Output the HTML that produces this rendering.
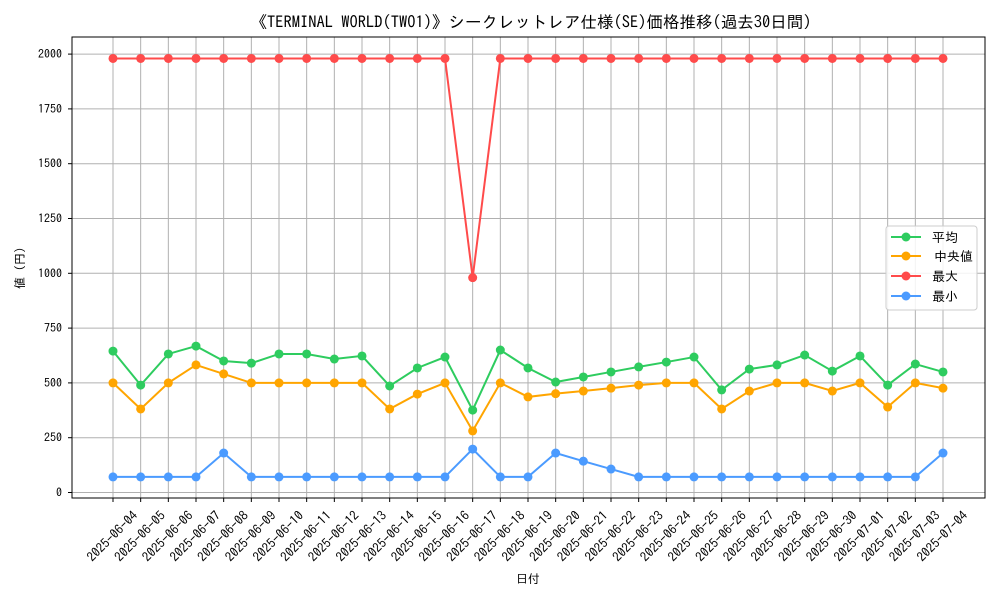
<!DOCTYPE html>
<html><head><meta charset="utf-8"><style>
body{margin:0;background:#fff;}
svg text{font-family:"IPAGothic","Liberation Sans","Noto Sans CJK JP",sans-serif;fill:#000;}
</style></head><body>
<svg width="1000" height="600" viewBox="0 0 1000 600" xmlns="http://www.w3.org/2000/svg">
<rect width="1000" height="600" fill="#fff"/>
<text x="531" y="28" font-size="16.5" text-anchor="middle">《TERMINAL WORLD(TWO1)》シークレットレア仕様(SE)価格推移(過去30日間)</text>
<g id="grid"></g>
<g id="series"></g>
<rect x="72" y="37" width="913" height="461" fill="none" stroke="#000" stroke-width="1"/>
<g id="axes"></g>
<text x="528" y="583" font-size="12" text-anchor="middle">日付</text>
<text transform="translate(24,268) rotate(-90)" font-size="12" text-anchor="middle">値 (円)</text>
<g>
<rect x="886" y="226" width="91" height="84" rx="3" fill="#fff" fill-opacity="0.85" stroke="#ccc"/>
<g><line x1="891" y1="237" x2="921" y2="237" stroke="#2ecc5f" stroke-width="2"/><circle cx="906" cy="237" r="4.5" fill="#2ecc5f"/><text x="932" y="242" font-size="13">平均</text></g>
<g><line x1="891" y1="256" x2="921" y2="256" stroke="#ffa500" stroke-width="2"/><circle cx="906" cy="256" r="4.5" fill="#ffa500"/><text x="934" y="261" font-size="13">中央値</text></g>
<g><line x1="891" y1="276" x2="921" y2="276" stroke="#ff4b4b" stroke-width="2"/><circle cx="906" cy="276" r="4.5" fill="#ff4b4b"/><text x="932" y="281" font-size="13">最大</text></g>
<g><line x1="891" y1="296" x2="921" y2="296" stroke="#4b9bff" stroke-width="2"/><circle cx="906" cy="296" r="4.5" fill="#4b9bff"/><text x="932" y="301" font-size="13">最小</text></g>
</g>
</svg>
<script>
const dates=["2025-06-04","2025-06-05","2025-06-06","2025-06-07","2025-06-08","2025-06-09","2025-06-10","2025-06-11","2025-06-12","2025-06-13","2025-06-14","2025-06-15","2025-06-16","2025-06-17","2025-06-18","2025-06-19","2025-06-20","2025-06-21","2025-06-22","2025-06-23","2025-06-24","2025-06-25","2025-06-26","2025-06-27","2025-06-28","2025-06-29","2025-06-30","2025-07-01","2025-07-02","2025-07-03","2025-07-04"];
const avgValues=[645,490,632,668,600,590,632,632,609,623,486,568,618,376,650,568,504,527,550,573,595,618,468,563,582,627,554,623,490,586,550];
const medianValues=[500,381,500,582,541,500,500,500,500,500,381,449,500,281,500,436,451,463,476,490,500,500,381,463,500,500,463,500,390,500,476];
const maxValues=[1980,1980,1980,1980,1980,1980,1980,1980,1980,1980,1980,1980,1980,980,1980,1980,1980,1980,1980,1980,1980,1980,1980,1980,1980,1980,1980,1980,1980,1980,1980];
const minValues=[71,71,71,71,180,71,71,71,71,71,71,71,71,198,71,71,180,143,107,71,71,71,71,71,71,71,71,71,71,71,180];
const yTicks=[0,250,500,750,1000,1250,1500,1750,2000];
const NS="http://www.w3.org/2000/svg";
const xPos=i=>113+i*(943-113)/(dates.length-1);
const yPos=v=>492.5-v*0.2192;
function mk(tag,attrs,parent){const e=document.createElementNS(NS,tag);for(const k in attrs)e.setAttribute(k,attrs[k]);parent.appendChild(e);return e;}
const grid=document.getElementById('grid'),axes=document.getElementById('axes'),ser=document.getElementById('series');
dates.forEach((d,i)=>{
 const x=xPos(i);
 const g=mk('line',{x1:x,y1:37,x2:x,y2:498,stroke:'#b0b0b0','stroke-width':1},grid);
 
 
 const t=mk('line',{x1:x,y1:498,x2:x,y2:502,stroke:'#000'},axes);
 
 
 const lb=mk('text',{transform:`translate(${x},${537}) rotate(-45)`,'font-size':13,'text-anchor':'middle','dominant-baseline':'middle'},axes);
 lb.textContent=d;
 
 
});
yTicks.forEach(v=>{
 const y=yPos(v);
 const g=mk('line',{x1:72,y1:y,x2:985,y2:y,stroke:'#b0b0b0','stroke-width':1},grid);
 
 
 const t=mk('line',{x1:68,y1:y,x2:72,y2:y,stroke:'#000'},axes);
 
 
 const lb=mk('text',{x:62,y:y+4,'font-size':12,'text-anchor':'end'},axes);
 lb.textContent=v;
 
 
});
[[maxValues,'#ff4b4b','max-series'],[minValues,'#4b9bff','min-series'],[medianValues,'#ffa500','median-series'],[avgValues,'#2ecc5f','avg-series']].forEach(([vals,c,name])=>{
 const g=mk('g',{},ser);
 
 
 const pl=mk('polyline',{points:vals.map((v,i)=>xPos(i)+','+yPos(v)).join(' '),fill:'none',stroke:c,'stroke-width':2},g);
 
 
 vals.forEach((v,i)=>{
  const p=mk('circle',{cx:xPos(i),cy:yPos(v),r:4.5,fill:c},g);
  
  
 });
});
</script>
</body></html>
